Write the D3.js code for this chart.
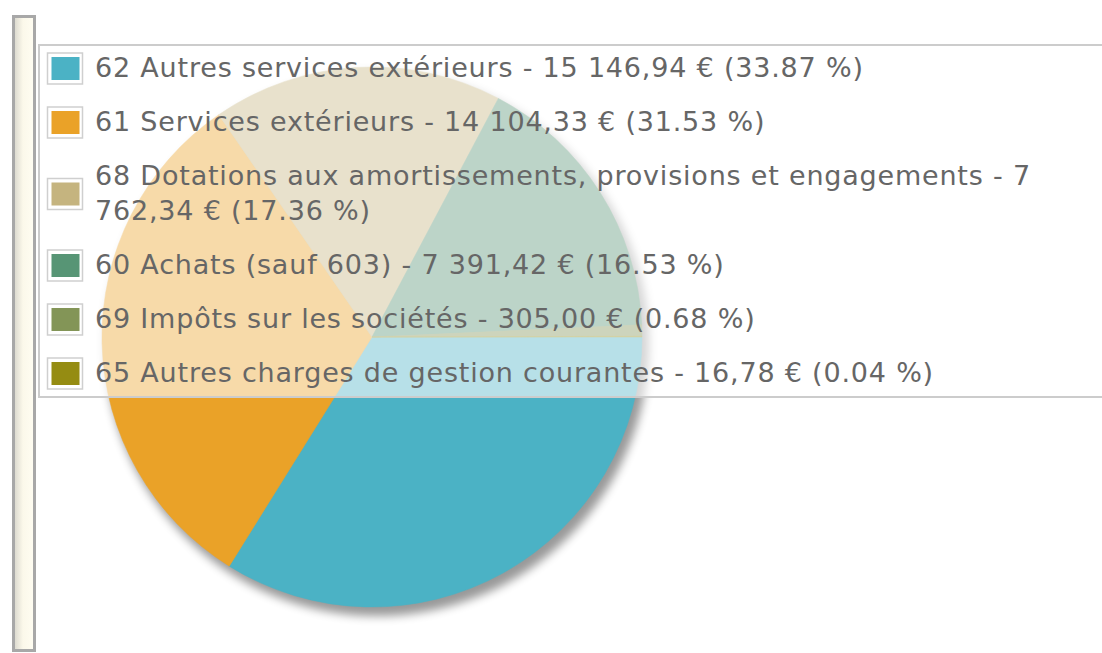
<!DOCTYPE html>
<html>
<head>
<meta charset="utf-8">
<script src="https://cdn.jsdelivr.net/npm/d3@7"></script>
<style>
  body { margin: 0; background: #fff; }
  svg { display: block; }
</style>
</head>
<body>
<script>
// dati
var codes = ["62", "61", "68", "60", "69", "65"];
var names = ["Autres services extérieurs", "Services extérieurs",
  "Dotations aux amortissements, provisions et engagements",
  "Achats (sauf 603)", "Impôts sur les sociétés", "Autres charges de gestion courantes"];
var amounts = ["15 146,94", "14 104,33", "7 762,34", "7 391,42", "305,00", "16,78"];
var percents = [33.87, 31.53, 17.36, 16.53, 0.68, 0.04];
var colors = ["#4bb2c5", "#eaa228", "#c5b47f", "#579575", "#839557", "#958c12"];

var width = 1102, height = 653;
var cx = 372, cy = 337, radius = 270;

var svg = d3.select("body").append("svg")
  .attr("width", width)
  .attr("height", height);

var defs = svg.append("defs");
var grad = defs.append("linearGradient").attr("id", "barGrad")
  .attr("x1", "0%").attr("x2", "100%");
grad.append("stop").attr("offset", "0%").attr("stop-color", "#d8d6cc");
grad.append("stop").attr("offset", "45%").attr("stop-color", "#fbf8ea");
grad.append("stop").attr("offset", "100%").attr("stop-color", "#fffdf2");

var blur = defs.append("filter").attr("id", "shadow")
  .attr("x", "-20%").attr("y", "-20%").attr("width", "140%").attr("height", "140%");
blur.append("feGaussianBlur").attr("stdDeviation", 5);

// barra a sinistra
svg.append("rect")
  .attr("x", 13.5).attr("y", 16.5)
  .attr("width", 21).attr("height", 634)
  .attr("fill", "url(#barGrad)")
  .attr("stroke", "#a8a8a8")
  .attr("stroke-width", 3);

// torta
var data = codes.map(function (c, i) {
  return { code: c, name: names[i], amount: amounts[i], pct: percents[i], color: colors[i] };
});

var pie = d3.pie()
  .sort(null)
  .value(function (d) { return d.pct; })
  .startAngle(Math.PI / 2)
  .endAngle(Math.PI / 2 + 2 * Math.PI);

var arc = d3.arc().innerRadius(0).outerRadius(radius);

var g = svg.append("g").attr("transform", "translate(" + cx + "," + cy + ")");

// ombra
g.append("circle")
  .attr("cx", 5).attr("cy", 7)
  .attr("r", radius + 2)
  .attr("fill", "#000")
  .attr("opacity", 0.4)
  .attr("filter", "url(#shadow)");

g.selectAll("path.slice")
  .data(pie(data))
  .enter().append("path")
  .attr("class", "slice")
  .attr("d", arc)
  .attr("fill", function (d) { return d.data.color; })
  .attr("stroke", function (d) { return d.data.color; })
  .attr("stroke-width", 0.5);

// legenda
var legend = svg.append("g");
legend.append("rect")
  .attr("x", 39).attr("y", 45)
  .attr("width", 1080).attr("height", 352)
  .attr("fill", "#fff")
  .attr("fill-opacity", 0.6)
  .attr("stroke", "#cccccc")
  .attr("stroke-width", 2);

var textX = 95, maxW = 985, fontSize = 27, lineH = 35, rowGap = 54;
var baseline = 77;

data.forEach(function (d, i) {
  var label = d.code + " " + d.name + " - " + d.amount + " € (" + d.pct.toFixed(2) + " %)";
  var t = legend.append("text")
    .attr("x", textX)
    .attr("y", baseline)
    .attr("fill", "#666")
    .style("font-family", "'DejaVu Sans', sans-serif")
    .style("font-size", fontSize + "px")
    .style("letter-spacing", "0.8px");
  // a capo manuale
  var words = label.split(" ");
  var line = [];
  var lines = 0;
  var tspan = t.append("tspan").attr("x", textX).attr("y", baseline);
  words.forEach(function (w) {
    line.push(w);
    tspan.text(line.join(" "));
    if (tspan.node().getComputedTextLength() > maxW && line.length > 1) {
      line.pop();
      tspan.text(line.join(" "));
      line = [w];
      lines++;
      tspan = t.append("tspan").attr("x", textX).attr("y", baseline + lines * lineH).text(w);
    }
  });
  var midY = baseline - 9 + lines * lineH / 2;
  legend.append("rect")
    .attr("x", 47.5).attr("y", midY - 15)
    .attr("width", 35).attr("height", 31)
    .attr("fill", "#fff")
    .attr("stroke", "#cfcfcf")
    .attr("stroke-width", 1.5);
  legend.append("rect")
    .attr("x", 51.5).attr("y", midY - 11)
    .attr("width", 28).attr("height", 23)
    .attr("fill", d.color);
  baseline += rowGap + lines * lineH;
});
</script>
</body>
</html>
